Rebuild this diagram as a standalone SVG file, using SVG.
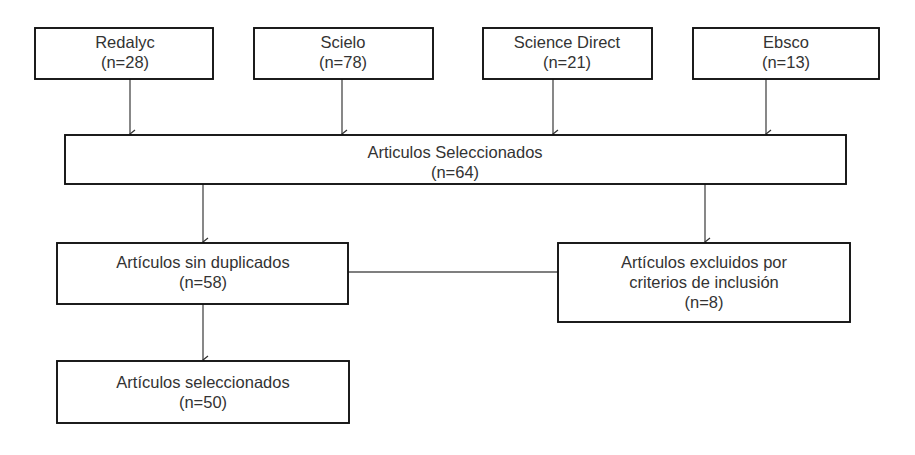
<svg xmlns="http://www.w3.org/2000/svg" width="915" height="455" viewBox="0 0 915 455">
<style>
.box{fill:#fff;stroke:#111;stroke-width:1.9}
.t{font-family:"Liberation Sans",Arial,sans-serif;font-size:16.5px;fill:#333;text-anchor:middle}
.c{stroke:#555;stroke-width:1.4;fill:none}
</style>
<defs>
<marker id="ah" viewBox="0 0 10 10" refX="5" refY="9" markerWidth="10" markerHeight="10" markerUnits="userSpaceOnUse" orient="auto-start-reverse">
<path d="M1,4 L5,9 L9,4" fill="none" stroke="#333" stroke-width="1.3"/>
</marker>
</defs>
<rect width="915" height="455" fill="#fff"/>
<g id="connectors">
<line class="c" x1="130" y1="79" x2="130" y2="134" marker-end="url(#ah)"/>
<line class="c" x1="342" y1="79" x2="342" y2="134" marker-end="url(#ah)"/>
<line class="c" x1="553" y1="79" x2="553" y2="134" marker-end="url(#ah)"/>
<line class="c" x1="766" y1="79" x2="766" y2="134" marker-end="url(#ah)"/>
<line class="c" x1="203" y1="184" x2="203" y2="242" marker-end="url(#ah)"/>
<line class="c" x1="705" y1="184" x2="705" y2="242" marker-end="url(#ah)"/>
<line class="c" x1="348" y1="272" x2="558" y2="272"/>
<line class="c" x1="203" y1="304" x2="203" y2="360" marker-end="url(#ah)"/>
</g>
<g id="redalyc">
<rect class="box" x="35" y="28" width="178" height="51"/>
<text class="t" x="125" y="48">Redalyc</text>
<text class="t" x="125" y="68">(n=28)</text>
</g>
<g id="scielo">
<rect class="box" x="254" y="28" width="179" height="51"/>
<text class="t" x="343" y="48">Scielo</text>
<text class="t" x="343" y="68">(n=78)</text>
</g>
<g id="sciencedirect">
<rect class="box" x="483" y="28" width="169" height="51"/>
<text class="t" x="567" y="48">Science Direct</text>
<text class="t" x="567" y="68">(n=21)</text>
</g>
<g id="ebsco">
<rect class="box" x="693" y="28" width="186" height="51"/>
<text class="t" x="786" y="48">Ebsco</text>
<text class="t" x="786" y="68">(n=13)</text>
</g>
<g id="seleccionados64">
<rect class="box" x="65" y="135" width="781" height="49"/>
<text class="t" x="455" y="158">Articulos Seleccionados</text>
<text class="t" x="455" y="178">(n=64)</text>
</g>
<g id="sinduplicados">
<rect class="box" x="57" y="243" width="291" height="61"/>
<text class="t" x="203" y="268">Artículos sin duplicados</text>
<text class="t" x="203" y="288">(n=58)</text>
</g>
<g id="excluidos">
<rect class="box" x="558" y="243" width="292" height="79"/>
<text class="t" x="704" y="268">Artículos excluidos por</text>
<text class="t" x="704" y="288">criterios de inclusión</text>
<text class="t" x="704" y="308">(n=8)</text>
</g>
<g id="seleccionados50">
<rect class="box" x="57" y="361" width="292" height="62"/>
<text class="t" x="203" y="388">Artículos seleccionados</text>
<text class="t" x="203" y="408">(n=50)</text>
</g>
</svg>
